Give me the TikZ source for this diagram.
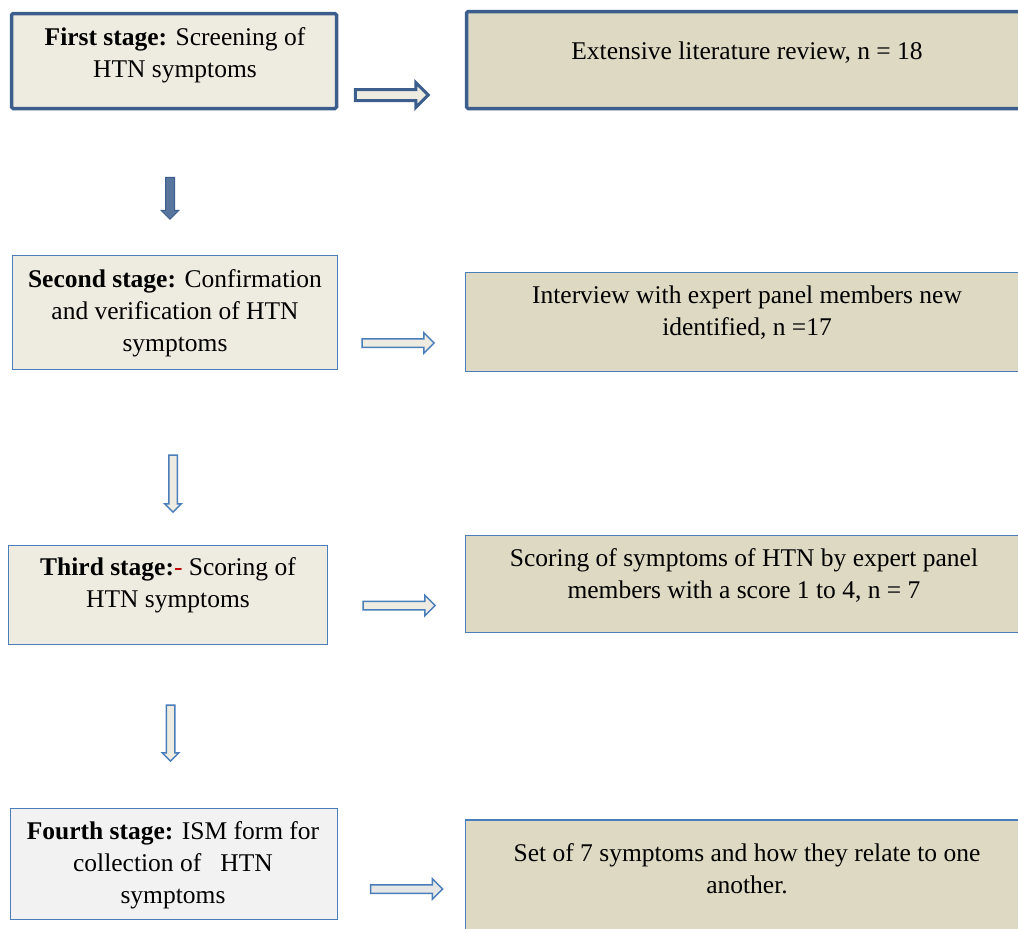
\documentclass[tikz,border=0pt]{standalone}
\usepackage{fontspec}
\setmainfont{Liberation Serif}
\usetikzlibrary{shapes.arrows,calc}

\definecolor{darkframe}{HTML}{3B5E8C}
\definecolor{lightframe}{HTML}{4A7EBB}
\definecolor{paleleft}{HTML}{EEECE1}
\definecolor{khaki}{HTML}{DDD9C3}
\definecolor{greyleft}{HTML}{F2F2F2}
\definecolor{greyarrow}{HTML}{E6E6E6}
\definecolor{dashred}{HTML}{C00000}

\tikzset{
  stagebox/.style={draw=lightframe,line width=1.5pt,fill=paleleft,inner sep=0pt},
  resultbox/.style={stagebox,fill=khaki},
  boldframe/.style={draw=darkframe,line width=3.5pt,rounded corners=1.5pt},
  stagetext/.style={align=center,inner sep=0pt,font=\fontsize{25.5}{32}\selectfont},
  sidearrow/.style={single arrow,draw=lightframe,line width=1.5pt,fill=paleleft,
    inner sep=3.5pt,single arrow head extend=6pt,minimum height=72pt},
  downarrow/.style={sidearrow,rotate=-90,inner sep=3.5pt,single arrow head extend=4pt}
}

\begin{document}
\begin{tikzpicture}[x=1pt,y=-1pt]
  \clip (0,0) rectangle (1018,929);

  % first stage
  \node[stagebox,boldframe,minimum width=325pt,minimum height=95pt] (b1) at (174,61) {};
  \node[resultbox,boldframe,minimum width=562pt,minimum height=97pt] (r1) at (747.5,60) {};
  \node[stagetext] (t1) at (175,55) {\textbf{First stage:} Screening of\\HTN symptoms};
  \node[stagetext] (u1) at (747,53) {Extensive literature review, n = 18};

  % second stage
  \node[stagebox,minimum width=325pt,minimum height=114pt] (b2) at (175,312.5) {};
  \node[resultbox,minimum width=564pt,minimum height=99pt] (r2) at (747.5,322) {};
  \node[stagetext] (t2) at (175,313) {\textbf{Second stage:} Confirmation\\and verification of HTN\\symptoms};
  \node[stagetext] (u2) at (747,313) {Interview with expert panel members new\\identified, n =17};

  % third stage
  \node[stagebox,minimum width=319pt,minimum height=99pt] (b3) at (168,595) {};
  \node[resultbox,minimum width=564pt,minimum height=97pt] (r3) at (747.5,584) {};
  \node[stagetext] (t3) at (168,585) {\textbf{Third stage:}\textcolor{dashred}{-} Scoring of\\HTN symptoms};
  \node[stagetext] (u3) at (744,575) {Scoring of symptoms of HTN by expert panel\\members with a score 1 to 4, n = 7};

  % fourth stage
  \node[stagebox,fill=greyleft,minimum width=327pt,minimum height=111pt] (b4) at (174,864) {};
  \node[resultbox,minimum width=564pt,minimum height=120pt] (r4) at (747.5,880) {};
  \node[stagetext] (t4) at (173,865) {\textbf{Fourth stage:} ISM form for\\collection of \ \ HTN\\symptoms};
  \node[stagetext] (u4) at (747,869) {Set of 7 symptoms and how they relate to one\\another.};

  % block arrows
  \node[sidearrow,draw=darkframe,line width=3pt,inner sep=4pt,single arrow head extend=7pt,
        minimum height=73pt] (a1) at (389,95) {};
  \node[sidearrow] (a2) at (396,343) {};
  \node[sidearrow] (a3) at (397,605.5) {};
  \node[sidearrow,fill=greyarrow] (a4) at (404.5,889) {};

  \node[downarrow,draw=darkframe,fill=darkframe!85,line width=1pt,inner sep=4pt,
        single arrow head extend=4.5pt,minimum height=42pt] (d1) at (170,196) {};
  \node[downarrow,minimum height=57pt] (d2) at (173,481.5) {};
  \node[downarrow,minimum height=56pt] (d3) at (170.5,731) {};
\end{tikzpicture}
\end{document}
